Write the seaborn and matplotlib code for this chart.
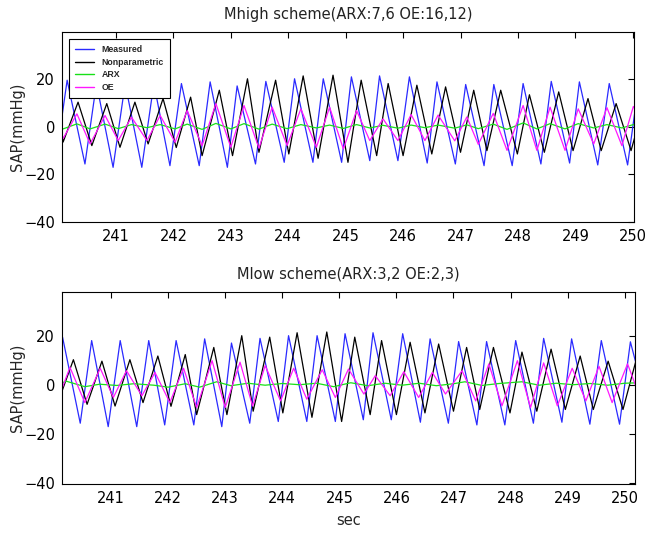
import pandas as pd
import matplotlib
matplotlib.use("Agg")
import matplotlib.pyplot as plt
import seaborn as sns

# Measured SAP (same in both panels): peak / trough times (sec) and values (mmHg)
meas_t = [240.0, 240.15, 240.46, 240.66, 240.95, 241.16, 241.45, 241.66, 241.94, 242.14,
          242.45, 242.64, 242.94, 243.11, 243.43, 243.61, 243.93, 244.11, 244.43, 244.61,
          244.93, 245.10, 245.42, 245.59, 245.91, 246.11, 246.42, 246.59, 246.91, 247.09,
          247.41, 247.58, 247.90, 248.09, 248.40, 248.58, 248.90, 249.07, 249.39, 249.59,
          249.91, 250.10, 250.25]
meas_v = [-6, 19.4, -15.7, 18.0, -17.1, 18.0, -17.1, 18.0, -16.4, 18.0,
          -16.4, 18.7, -17.1, 17.0, -15.7, 18.9, -15.0, 20.0, -15.0, 20.0,
          -15.0, 20.8, -14.3, 21.2, -14.3, 20.8, -15.3, 18.7, -15.7, 17.6,
          -16.4, 17.6, -16.4, 18.0, -15.7, 18.9, -15.3, 18.7, -16.1, 18.0,
          -16.1, 17.5, 4.0]

# Nonparametric prediction (same in both panels)
np_t = [240.0, 240.08, 240.34, 240.58, 240.84, 241.07, 241.33, 241.56, 241.82, 242.05,
        242.30, 242.50, 242.80, 243.03, 243.29, 243.49, 243.78, 244.01, 244.26, 244.52,
        244.78, 245.04, 245.27, 245.54, 245.74, 246.00, 246.24, 246.50, 246.74, 247.00,
        247.23, 247.46, 247.70, 247.99, 248.20, 248.46, 248.71, 248.96, 249.22, 249.45,
        249.71, 249.97, 250.20, 250.30]
np_v = [6, -6.5, 10.2, -8.0, 9.6, -8.7, 10.2, -7.3, 11.7, -8.8,
        12.3, -12.2, 15.2, -12.2, 20.0, -10.8, 19.4, -11.5, 21.2, -13.3,
        21.5, -15.0, 19.4, -12.2, 18.0, -12.2, 17.3, -11.5, 16.6, -10.8,
        15.2, -10.1, 15.2, -11.5, 13.3, -10.8, 14.5, -10.1, 11.7, -10.1,
        9.6, -10.1, 10.0, 2.0]

# Mhigh scheme: OE and ARX (sampled at the same times)
high_t = [240.0, 240.08, 240.32, 240.55, 240.81, 241.04, 241.27, 241.54, 241.77, 242.03,
          242.24, 242.50, 242.74, 243.00, 243.23, 243.49, 243.72, 243.98, 244.22, 244.49,
          244.72, 244.96, 245.19, 245.42, 245.65, 245.91, 246.14, 246.38, 246.61, 246.90,
          247.11, 247.31, 247.57, 247.81, 248.09, 248.33, 248.56, 248.82, 249.05, 249.32,
          249.55, 249.81, 250.01, 250.10]
high_oe = [2, -5, 5.3, -7.3, 4.6, -5.9, 3.9, -5.9, 4.6, -6.6,
           6.7, -8.0, 9.6, -8.7, 8.8, -9.1, 8.1, -8.0, 7.4, -8.7,
           8.1, -9.4, 6.7, -5.9, 3.2, -5.9, 5.0, -5.9, 4.8, -6.0,
           4.0, -7.5, 5.5, -10.0, 8.8, -10.0, 8.1, -10.0, 7.4, -7.3,
           7.9, -8.0, 8.4, 5]
high_arx = [0, -1.0, 1.1, -1.0, 1.0, -0.9, 0.8, -0.5, 0.8, -1.0,
            1.0, -1.2, 1.3, -1.0, 1.2, -1.1, 1.0, -0.9, 0.8, -0.6,
            0.6, -0.8, 0.8, -0.6, 0.5, -0.7, 0.6, -0.5, 0.6, -0.7,
            0.7, -0.9, 1.0, -1.2, 1.5, -1.0, 1.2, -1.0, 1.2, -0.6,
            0.8, -0.6, 0.8, 0.5]

# Mlow scheme: OE
low_oe_t = [240.10, 240.28, 240.54, 240.81, 241.04, 241.27, 241.54, 241.77, 242.03, 242.27,
            242.50, 242.77, 243.00, 243.26, 243.48, 243.70, 243.97, 244.20, 244.43, 244.70,
            244.93, 245.16, 245.43, 245.63, 245.89, 246.13, 246.39, 246.63, 246.86, 247.15,
            247.39, 247.62, 247.85, 248.12, 248.35, 248.58, 248.82, 249.08, 249.32, 249.55,
            249.78, 250.05, 250.25]
low_oe = [-4, 7.1, -7.3, 6.7, -5.2, 5.7, -4.5, 5.0, -7.3, 6.7,
          -9.3, 9.8, -9.3, 9.2, -8.7, 7.8, -6.6, 6.7, -5.9, 6.1,
          -5.2, 6.4, -3.8, 3.7, -4.5, 5.3, -5.2, 5.0, -3.8, 5.7,
          -6.6, 8.5, -8.6, 9.8, -9.3, 8.9, -8.6, 6.7, -6.6, 7.5,
          -7.3, 8.5, -4]

# Mlow scheme: ARX
low_arx_t = [240.10, 240.22, 240.54, 240.80, 241.10, 241.40, 241.75, 242.00, 242.30, 242.55,
             242.85, 243.10, 243.40, 243.70, 244.00, 244.30, 244.60, 244.90, 245.20, 245.50,
             245.80, 246.10, 246.40, 246.70, 247.00, 247.20, 247.50, 247.80, 248.20, 248.50,
             248.80, 249.10, 249.40, 249.70, 250.00, 250.25]
low_arx = [0.5, 1.4, -0.8, 0.2, -0.3, 0.4, -0.2, -1.0, 0.4, -1.0,
           1.2, -0.4, 0.6, -0.2, 0.5, 0.0, 0.6, -0.8, 0.8, -0.4,
           0.6, -0.2, 0.6, -0.4, 0.4, 1.2, -0.3, 0.5, 1.2, -0.2,
           0.6, 0.0, 0.5, -0.2, 0.6, 0.8]

series = ["Measured", "Nonparametric", "ARX", "OE"]
colors = {"Measured": "#2a2aff", "Nonparametric": "#000000", "ARX": "#18e018", "OE": "#ff18ff"}


def make_df(arx_t, arx_v, oe_t, oe_v):
    parts = [
        pd.DataFrame({"t": meas_t, "v": meas_v, "series": "Measured"}),
        pd.DataFrame({"t": np_t, "v": np_v, "series": "Nonparametric"}),
        pd.DataFrame({"t": arx_t, "v": arx_v, "series": "ARX"}),
        pd.DataFrame({"t": oe_t, "v": oe_v, "series": "OE"}),
    ]
    return pd.concat(parts, ignore_index=True)


df_high = make_df(high_t, high_arx, high_t, high_oe)
df_low = make_df(low_arx_t, low_arx, low_oe_t, low_oe)

sns.set_style("white")
plt.rcParams["font.family"] = ["DejaVu Sans"]

fig = plt.figure(figsize=(6.47, 5.33), dpi=100)
ax1 = fig.add_axes([0.0958, 0.5835, 0.884, 0.3565])
ax2 = fig.add_axes([0.0958, 0.0919, 0.8856, 0.3602])

panels = [
    (ax1, df_high, "Mhigh scheme(ARX:7,6 OE:16,12)", (240.06, 250.02), (-40, 39.6)),
    (ax2, df_low, "Mlow scheme(ARX:3,2 OE:2,3)", (240.14, 250.18), (-40.5, 37.8)),
]

for i, (ax, df, title, xlim, ylim) in enumerate(panels):
    sns.lineplot(data=df, x="t", y="v", hue="series", hue_order=series, palette=colors,
                 estimator=None, sort=False, linewidth=0.9, ax=ax, legend=(i == 0))
    ax.set_xlim(*xlim)
    ax.set_ylim(*ylim)
    ax.set_xticks(range(241, 251))
    ax.set_yticks([-40, -20, 0, 20])
    ax.tick_params(direction="in", top=True, right=True, length=4.5, width=0.8,
                   labelsize=10.5, colors="black", pad=5)
    for s in ax.spines.values():
        s.set_color("black")
        s.set_linewidth(0.8)
    ax.set_title(title, fontsize=10.5, pad=9.5, color="#222222")
    ax.set_ylabel("SAP(mmHg)", fontsize=10.5, labelpad=-1)
    ax.set_xlabel("")

ax2.set_xlabel("sec", fontsize=10.5, labelpad=5)

leg = ax1.legend(loc="upper left", bbox_to_anchor=(0.012, 0.965), borderaxespad=0,
                 prop={"family": "Liberation Sans", "size": 6.3, "weight": "bold"},
                 frameon=True, fancybox=False, edgecolor="black", framealpha=1,
                 handlelength=2.1, handletextpad=0.9, labelspacing=0.4, borderpad=0.75)
leg.get_frame().set_linewidth(0.8)
for line in leg.get_lines():
    line.set_linewidth(1.0)

fig.savefig("out.png", dpi=100)
